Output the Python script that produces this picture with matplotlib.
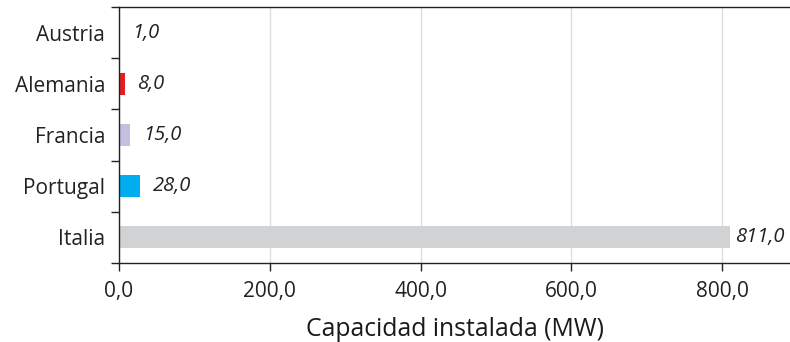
import numpy as np
import matplotlib.pyplot as plt

# installed capacity per country
countries = ['Austria', 'Alemania', 'Francia', 'Portugal', 'Italia']
capacity = [1.0, 8.0, 15.0, 28.0, 811.0]
colors = ['#7f7f7f', '#e31e24', '#c2c0de', '#00aeef', '#d1d2d4']
xticks = [0, 200, 400, 600, 800]

plt.rcParams['font.family'] = ['Open Sans', 'DejaVu Sans']

fig = plt.figure(figsize=(7.9, 3.42), dpi=100)
ax = fig.add_axes([119/790, 1 - 263/342, (790 - 119)/790, (263 - 7)/342])

y = np.arange(len(countries))
ax.barh(y, capacity, height=0.43, color=colors, zorder=2)

# value labels; the long bar gets its label tucked closer so it stays inside
for yi, v in zip(y, capacity):
    off = 3 if v > 500 else 9
    ax.annotate(f'{v:.1f}'.replace('.', ','), (v, yi), xytext=(off, 0),
                textcoords='offset points', va='center', ha='left',
                fontsize=14.5, style='italic', color='#222222', zorder=3)

ax.set_ylim(len(countries) - 0.5, -0.5)
ax.set_xlim(0, 890)
ax.set_yticks(np.arange(-0.5, len(countries)), minor=False)
ax.set_yticklabels([])
ax.set_yticks(y, minor=True)
ax.set_yticklabels(countries, minor=True, fontsize=15, color='#222222')
ax.tick_params(axis='y', which='minor', length=0, pad=10)
ax.tick_params(axis='y', which='major', length=6, width=1, color='#222222')

ax.set_xticks(xticks)
ax.set_xticklabels([f'{t:.1f}'.replace('.', ',') for t in xticks], fontsize=15, color='#222222')
ax.tick_params(axis='x', length=6, width=1, color='#222222', pad=7)
ax.grid(axis='x', color='#dddddd', linewidth=1, zorder=0)

ax.set_xlabel('Capacidad instalada (MW)', fontsize=17.8, color='#1a1a1a', labelpad=11,
              fontweight='medium')

for s in ['left', 'bottom', 'top']:
    ax.spines[s].set_color('#222222')
    ax.spines[s].set_linewidth(1)
ax.spines['right'].set_visible(False)

fig.savefig('out.png', dpi=100)
